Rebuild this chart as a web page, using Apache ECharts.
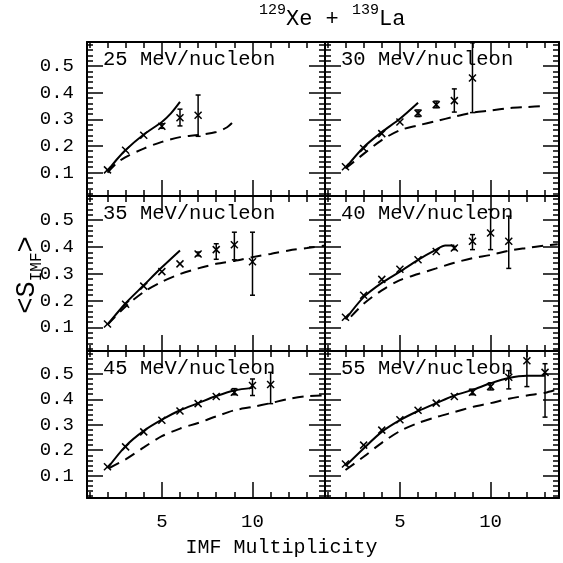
<!DOCTYPE html>
<html>
<head>
<meta charset="utf-8">
<script src="https://cdn.jsdelivr.net/npm/echarts@6/dist/echarts.min.js"></script>
<style>
html, body { margin: 0; padding: 0; background: #fff; }
#main { width: 563px; height: 563px; }
</style>
</head>
<body>
<div id="main"></div>
<script>
var FONT = 'Liberation Mono';

// panel energies (MeV/nucleon) and tick labels
var energies = [25, 30, 35, 40, 45, 55];
var xMajor = [5, 10];
var yMajor = [0.1, 0.2, 0.3, 0.4, 0.5];

// data points: multiplicity, <S_IMF>, error bar low / high (null = no bar)
var m25 = [2, 3, 4, 5, 6, 7];
var v25 = [0.110, 0.184, 0.240, 0.274, 0.306, 0.315];
var lo25 = [null, null, null, 0.266, 0.275, 0.236];
var hi25 = [null, null, null, 0.283, 0.338, 0.391];

var m30 = [2, 3, 4, 5, 6, 7, 8, 9];
var v30 = [0.122, 0.190, 0.246, 0.290, 0.323, 0.355, 0.370, 0.455];
var lo30 = [null, null, null, null, 0.310, 0.343, 0.327, 0.325];
var hi30 = [null, null, null, null, 0.335, 0.368, 0.414, 0.587];

var m35 = [2, 3, 4, 5, 6, 7, 8, 9, 10];
var v35 = [0.113, 0.186, 0.254, 0.308, 0.337, 0.374, 0.390, 0.408, 0.345];
var lo35 = [null, null, null, null, null, 0.367, 0.354, 0.352, 0.220];
var hi35 = [null, null, null, null, null, 0.381, 0.412, 0.455, 0.455];

var m40 = [2, 3, 4, 5, 6, 7, 8, 9, 10, 11];
var v40 = [0.138, 0.220, 0.279, 0.317, 0.352, 0.383, 0.396, 0.421, 0.452, 0.421];
var lo40 = [null, null, null, null, null, null, 0.390, 0.390, 0.390, 0.320];
var hi40 = [null, null, null, null, null, null, 0.402, 0.446, 0.540, 0.515];

var m45 = [2, 3, 4, 5, 6, 7, 8, 9, 10, 11];
var v45 = [0.135, 0.213, 0.272, 0.318, 0.354, 0.383, 0.411, 0.428, 0.454, 0.458];
var lo45 = [null, null, null, null, null, null, null, 0.418, 0.415, 0.383];
var hi45 = [null, null, null, null, null, null, null, 0.442, 0.480, 0.506];

var m55 = [2, 3, 4, 5, 6, 7, 8, 9, 10, 11, 12, 13];
var v55 = [0.146, 0.220, 0.279, 0.320, 0.357, 0.385, 0.411, 0.428, 0.450, 0.487, 0.552, 0.506];
var lo55 = [null, null, null, null, null, null, null, 0.418, 0.437, 0.441, 0.450, 0.330];
var hi55 = [null, null, null, null, null, null, null, 0.440, 0.465, 0.513, 0.590, 0.540];

// model curves: solid and dashed
var sx25 = [2, 2.5, 3, 4, 5, 5.5, 6];
var sy25 = [0.105, 0.148, 0.185, 0.243, 0.290, 0.322, 0.365];
var dx25 = [2, 2.5, 3, 4, 5, 6, 7, 8, 8.6, 9];
var dy25 = [0.100, 0.135, 0.158, 0.190, 0.215, 0.233, 0.241, 0.252, 0.270, 0.295];

var sx30 = [2, 3, 4, 5, 6];
var sy30 = [0.117, 0.195, 0.252, 0.302, 0.362];
var dx30 = [2, 3, 4, 5, 6, 7, 8, 9, 10, 11, 12, 13];
var dy30 = [0.115, 0.170, 0.222, 0.259, 0.277, 0.293, 0.310, 0.325, 0.333, 0.342, 0.346, 0.350];

var sx35 = [2, 3, 4, 5, 6];
var sy35 = [0.110, 0.190, 0.257, 0.324, 0.387];
var dx35 = [2, 3, 4, 5, 6, 7, 8, 9, 10, 11, 12, 13, 14];
var dy35 = [0.110, 0.178, 0.232, 0.270, 0.299, 0.320, 0.337, 0.348, 0.362, 0.374, 0.387, 0.396, 0.405];

var sx40 = [2, 3, 4, 5, 6, 7, 7.5, 8];
var sy40 = [0.130, 0.213, 0.266, 0.308, 0.352, 0.390, 0.405, 0.405];
var dx40 = [2.3, 3, 4, 5, 6, 7, 8, 9, 10, 11, 12, 13, 13.7];
var dy40 = [0.140, 0.188, 0.238, 0.276, 0.299, 0.320, 0.341, 0.358, 0.370, 0.386, 0.396, 0.405, 0.410];

var sx45 = [2, 3, 4, 5, 6, 7, 8, 9, 10];
var sy45 = [0.129, 0.216, 0.276, 0.320, 0.357, 0.385, 0.413, 0.435, 0.445];
var dx45 = [2.1, 3, 4, 5, 6, 7, 8, 9, 10, 11, 12, 13, 14];
var dy45 = [0.130, 0.164, 0.211, 0.255, 0.285, 0.307, 0.333, 0.357, 0.370, 0.385, 0.402, 0.412, 0.415];

var sx55 = [2, 3, 4, 5, 6, 7, 8, 9, 10, 11, 12, 13];
var sy55 = [0.138, 0.207, 0.272, 0.318, 0.354, 0.385, 0.415, 0.437, 0.463, 0.484, 0.493, 0.493];
var dx55 = [2, 3, 4, 5, 6, 7, 8, 9, 10, 11, 12, 13, 13.7];
var dy55 = [0.122, 0.174, 0.229, 0.275, 0.307, 0.330, 0.350, 0.370, 0.385, 0.402, 0.415, 0.426, 0.440];

var panels = [
  {m: m25, v: v25, lo: lo25, hi: hi25, sx: sx25, sy: sy25, dx: dx25, dy: dy25},
  {m: m30, v: v30, lo: lo30, hi: hi30, sx: sx30, sy: sy30, dx: dx30, dy: dy30},
  {m: m35, v: v35, lo: lo35, hi: hi35, sx: sx35, sy: sy35, dx: dx35, dy: dy35},
  {m: m40, v: v40, lo: lo40, hi: hi40, sx: sx40, sy: sy40, dx: dx40, dy: dy40},
  {m: m45, v: v45, lo: lo45, hi: hi45, sx: sx45, sy: sy45, dx: dx45, dy: dy45},
  {m: m55, v: v55, lo: lo55, hi: hi55, sx: sx55, sy: sy55, dx: dx55, dy: dy55}
];

// layout
var cols = [{left: 87, width: 238, xmax: 14.0}, {left: 325, width: 234, xmax: 13.77}];
var rows = [{top: 42, height: 154}, {top: 196, height: 155}, {top: 351, height: 147}];
var XMIN = 0.87, YMIN = 0.012, YMAX = 0.59;

function range(a, b, step, skip, lo, hi) {
  var out = [];
  for (var k = 0; a + k * step <= b + 1e-9; k++) {
    var v = Math.round((a + k * step) * 1000) / 1000;
    if (skip.indexOf(v) === -1 && v > lo && v < hi) out.push(v);
  }
  return out;
}

var tickStyle = {color: '#000', width: 1.5};
var labelStyle = {color: '#000', fontFamily: FONT, fontSize: 19};

function xAx(gi, pos, vals, len, line, label, xmax) {
  return {
    type: 'value', gridIndex: gi, position: pos, min: XMIN, max: xmax,
    axisLine: {show: line, onZero: false, lineStyle: {color: '#000', width: 2}},
    axisTick: {show: true, inside: true, length: len, customValues: vals, lineStyle: tickStyle},
    axisLabel: Object.assign({show: label, customValues: xMajor, margin: 14}, labelStyle),
    splitLine: {show: false}
  };
}
function yAx(gi, pos, vals, len, line, label) {
  return {
    type: 'value', gridIndex: gi, position: pos, min: YMIN, max: YMAX,
    axisLine: {show: line, onZero: false, lineStyle: {color: '#000', width: 2}},
    axisTick: {show: true, inside: true, length: len, customValues: vals, lineStyle: tickStyle},
    axisLabel: Object.assign({show: label, customValues: yMajor, margin: 13,
      formatter: function (v) { return v.toFixed(1); }}, labelStyle),
    splitLine: {show: false}
  };
}

function renderPoint(params, api) {
  var x = api.value(0);
  var c = api.coord([x, api.value(1)]);
  var lo = api.value(2), hi = api.value(3);
  var st = {stroke: '#000', lineWidth: 1.5, fill: null};
  var h = 3.5;
  var kids = [
    {type: 'line', shape: {x1: c[0] - h, y1: c[1] - h, x2: c[0] + h, y2: c[1] + h}, style: st},
    {type: 'line', shape: {x1: c[0] - h, y1: c[1] + h, x2: c[0] + h, y2: c[1] - h}, style: st}
  ];
  if (!isNaN(lo) && !isNaN(hi)) {
    var a = api.coord([x, hi]), b = api.coord([x, lo]);
    kids.push({type: 'line', shape: {x1: a[0], y1: a[1], x2: b[0], y2: b[1]}, style: st});
    kids.push({type: 'line', shape: {x1: a[0] - 2.5, y1: a[1], x2: a[0] + 2.5, y2: a[1]}, style: st});
    kids.push({type: 'line', shape: {x1: b[0] - 2.5, y1: b[1], x2: b[0] + 2.5, y2: b[1]}, style: st});
  }
  return {type: 'group', children: kids};
}

var grids = [], xAxes = [], yAxes = [], series = [], graphics = [];

panels.forEach(function (p, i) {
  var r = Math.floor(i / 2), c = i % 2;
  var col = cols[c], row = rows[r];
  grids.push({left: col.left, top: row.top, width: col.width, height: row.height});
  var xMinor = range(1, 14, 1, xMajor, XMIN, col.xmax);
  var yMinor = range(0.02, 0.58, 0.02, yMajor, YMIN, YMAX);
  xAxes.push(xAx(i, 'bottom', xMajor, 16, true, r === 2, col.xmax));
  xAxes.push(xAx(i, 'bottom', xMinor, 6, false, false, col.xmax));
  xAxes.push(xAx(i, 'top', xMajor, 16, true, false, col.xmax));
  xAxes.push(xAx(i, 'top', xMinor, 6, false, false, col.xmax));
  yAxes.push(yAx(i, 'left', yMajor, 16, true, c === 0));
  yAxes.push(yAx(i, 'left', yMinor, 6, false, false));
  yAxes.push(yAx(i, 'right', yMajor, 16, true, false));
  yAxes.push(yAx(i, 'right', yMinor, 6, false, false));

  series.push({
    type: 'line', xAxisIndex: 4 * i, yAxisIndex: 4 * i,
    data: p.sx.map(function (x, k) { return [x, p.sy[k]]; }),
    smooth: 0.3, showSymbol: false, silent: true,
    lineStyle: {color: '#000', width: 2}
  });
  series.push({
    type: 'line', xAxisIndex: 4 * i, yAxisIndex: 4 * i,
    data: p.dx.map(function (x, k) { return [x, p.dy[k]]; }),
    smooth: 0.3, showSymbol: false, silent: true,
    lineStyle: {color: '#000', width: 2, type: [11, 7]}
  });
  series.push({
    type: 'custom', xAxisIndex: 4 * i, yAxisIndex: 4 * i,
    data: p.m.map(function (x, k) {
      return [x, p.v[k], p.lo[k] == null ? '-' : p.lo[k], p.hi[k] == null ? '-' : p.hi[k]];
    }),
    renderItem: renderPoint, silent: true
  });

  graphics.push({
    type: 'text', left: col.left + 16, top: row.top + 7,
    style: {text: energies[i] + ' MeV/nucleon', fontFamily: FONT, fontSize: 20.5, fill: '#000'}
  });
});

graphics.push({
  type: 'text', left: 259, top: 3,
  style: {
    text: '{s|129}{b|Xe + }{s|139}{b|La}',
    rich: {
      s: {fontFamily: FONT, fontSize: 15, lineHeight: 15, verticalAlign: 'top', fill: '#000'},
      b: {fontFamily: FONT, fontSize: 22, lineHeight: 32, fill: '#000'}
    }
  }
});
graphics.push({
  type: 'text', left: 'center', top: 538,
  style: {text: 'IMF Multiplicity', fontFamily: FONT, fontSize: 20, fill: '#000'}
});
graphics.push({
  type: 'text', x: 27, y: 275, rotation: Math.PI / 2,
  style: {
    text: '{b|<S}{s|IMF}{b|>}', align: 'center', verticalAlign: 'middle',
    rich: {
      s: {fontFamily: FONT, fontSize: 16, lineHeight: 16, verticalAlign: 'bottom', fill: '#000'},
      b: {fontFamily: FONT, fontSize: 27, lineHeight: 36, fill: '#000'}
    }
  }
});

var chart = echarts.init(document.getElementById('main'));
chart.setOption({
  backgroundColor: '#fff',
  animation: false,
  grid: grids,
  xAxis: xAxes,
  yAxis: yAxes,
  series: series,
  graphic: graphics
});
</script>
</body>
</html>
